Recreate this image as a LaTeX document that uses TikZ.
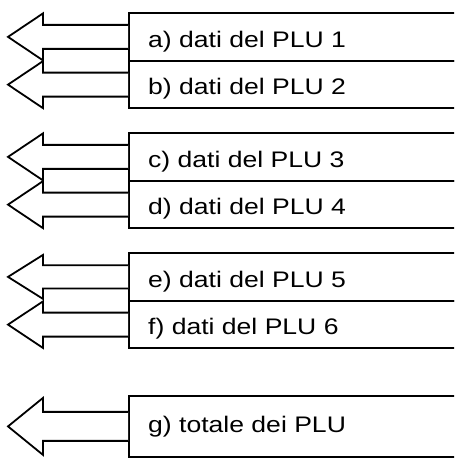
\documentclass[tikz,border=0pt]{standalone}
\usepackage{fontspec}
\setmainfont{Liberation Sans}[FakeStretch=1.18]
\usetikzlibrary{calc}
\tikzset{
  cell/.style={draw, line width=1.8pt, rectangle, minimum width=360pt, inner sep=0pt, anchor=north west},
  lbl/.style={anchor=base west, inner sep=0pt, font=\fontsize{22.5}{27}\selectfont},
  arrowline/.style={draw, line width=1.8pt, line join=miter, fill=white}
}
\newcommand{\blockarr}[3]{%
  \draw[arrowline] ($(#1.west)+(0,#3)$) -- ($(#1.west)+(-85,#3)$) -- ($(#1.west)+(-85,#2)$)
   -- ($(#1.west)+(-120,0)$) -- ($(#1.west)+(-85,-#2)$) -- ($(#1.west)+(-85,-#3)$) -- ($(#1.west)+(0,-#3)$);}
\begin{document}
\begin{tikzpicture}[x=1pt,y=1pt]
\useasboundingbox (0,0) rectangle (454,462);
\clip (0,0) rectangle (454,462);
% cells
\node[cell, minimum height=48pt] (a) at (128,450) {};
\node[cell, minimum height=47.5pt] (b) at (128,402) {};
\node[cell, minimum height=48pt] (c) at (128,330) {};
\node[cell, minimum height=47.5pt] (d) at (128,282) {};
\node[cell, minimum height=48pt] (e) at (128,210) {};
\node[cell, minimum height=47.5pt] (f) at (128,162) {};
\node[cell, minimum height=61pt] (g) at (128,67) {};
% arrows
\blockarr{a}{23.5}{12}
\blockarr{b}{23.5}{12}
\blockarr{c}{23.5}{12}
\blockarr{d}{23.5}{12}
\blockarr{e}{22}{11.7}
\blockarr{f}{23.3}{12}
\blockarr{g}{28.5}{14.5}
% labels
\node[lbl] (ta) at ($(a.west)+(20,-10.7)$) {a) dati del PLU 1};
\node[lbl] (tb) at ($(b.west)+(20,-10.3)$) {b) dati del PLU 2};
\node[lbl] (tc) at ($(c.west)+(20,-10.7)$) {c) dati del PLU 3};
\node[lbl] (td) at ($(d.west)+(20,-10.3)$) {d) dati del PLU 4};
\node[lbl] (te) at ($(e.west)+(20,-10.7)$) {e) dati del PLU 5};
\node[lbl] (tf) at ($(f.west)+(20,-10.3)$) {f) dati del PLU 6};
\node[lbl] (tg) at ($(g.west)+(20,-6.2)$) {g) totale dei PLU};
\end{tikzpicture}
\end{document}
